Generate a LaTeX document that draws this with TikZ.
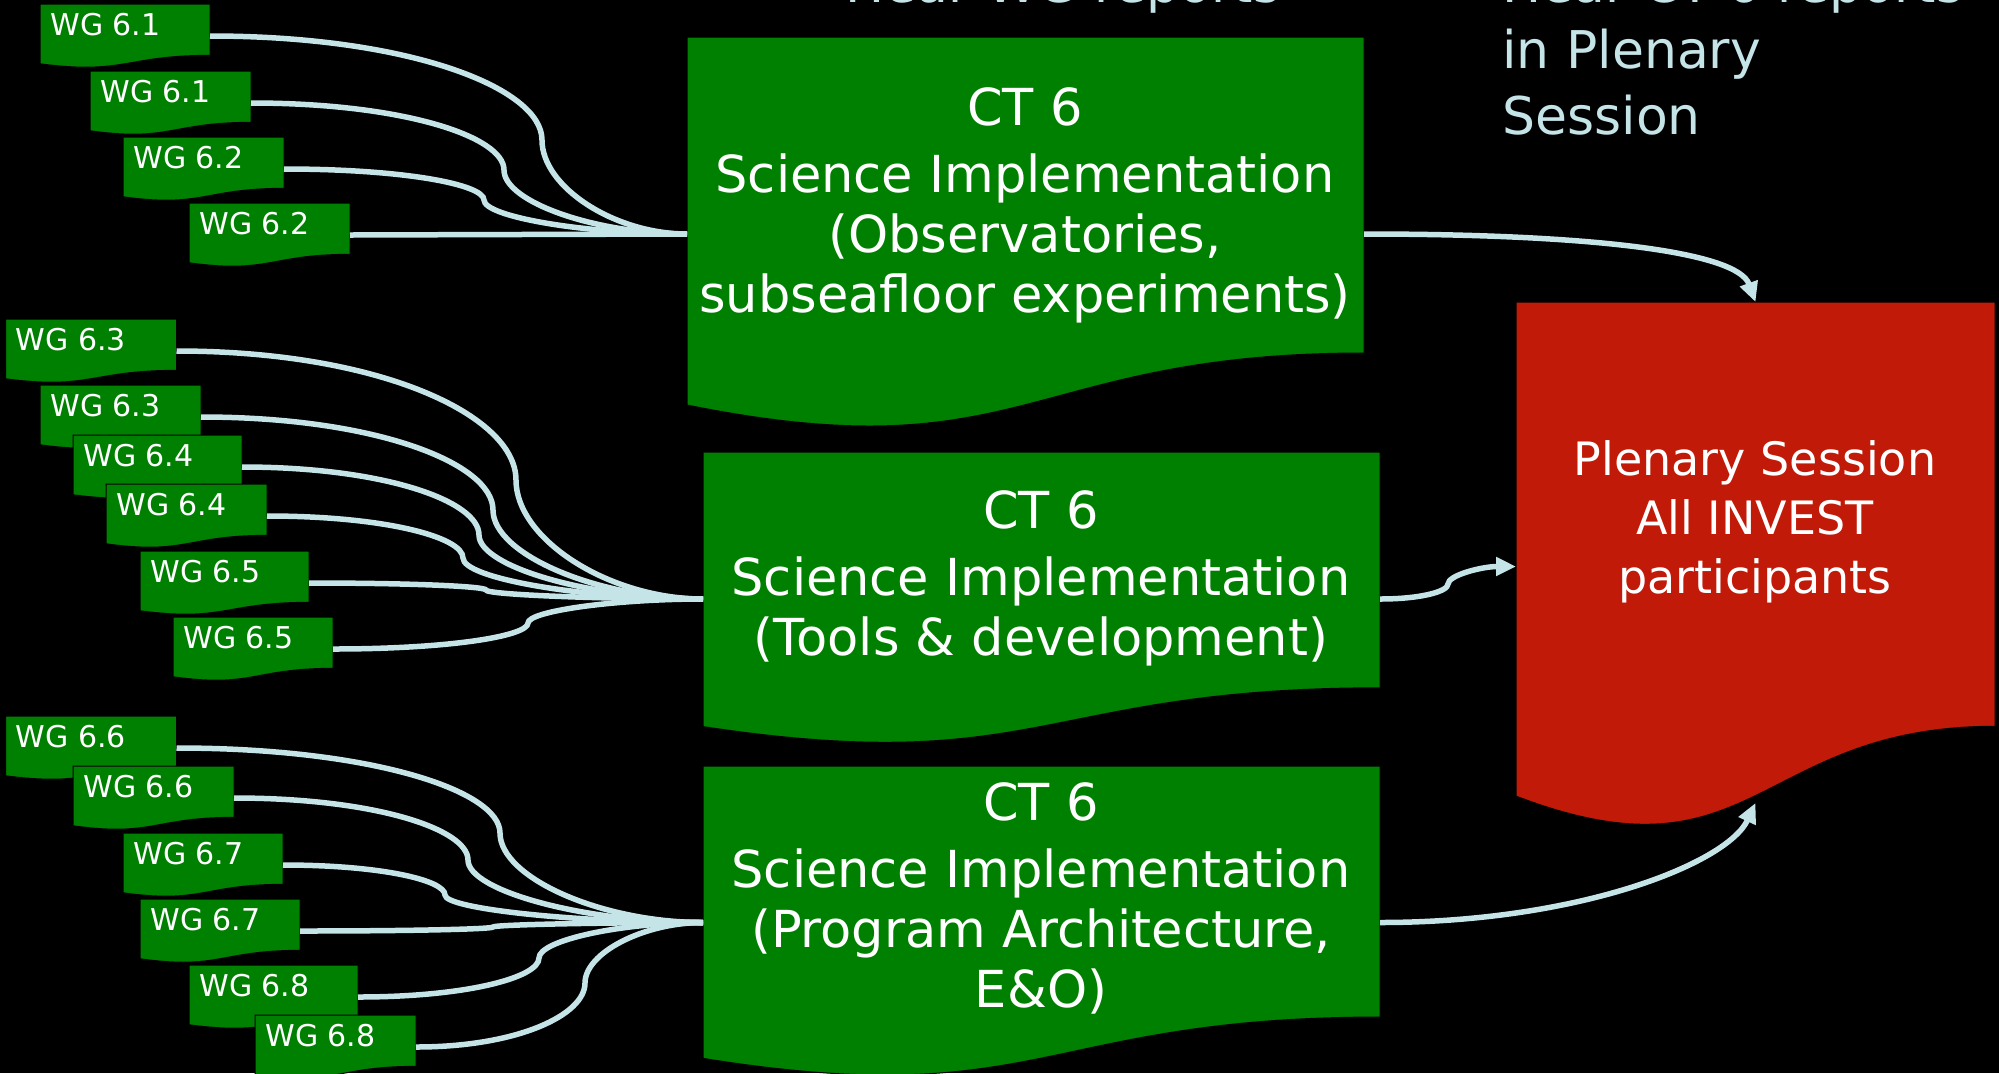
\documentclass[tikz,border=0pt]{standalone}
\usepackage{fontspec}
\setmainfont{DejaVu Sans}
\usetikzlibrary{calc,arrows.meta}
\definecolor{wggreen}{RGB}{0,128,0}
\definecolor{plred}{RGB}{193,26,8}
\definecolor{linec}{RGB}{197,228,232}
\tikzset{
  shapebox/.style={anchor=north west, inner sep=0pt, outer sep=0pt, draw=none},
  wgtext/.style={anchor=base west, inner sep=0pt, text=white, font=\fontsize{15pt}{18pt}\selectfont},
  cttext/.style={anchor=base, inner sep=0pt, text=white, font=\fontsize{25.5pt}{30pt}\selectfont},
  redtext/.style={anchor=base, inner sep=0pt, text=white, font=\fontsize{23pt}{29.5pt}\selectfont},
  hdtext/.style={anchor=base west, inner sep=0pt, text=linec, font=\fontsize{26pt}{33pt}\selectfont},
  conn/.style={draw=linec, line width=2.75pt},
  arr/.style={-{Triangle[length=10pt,width=9pt]}}
}
\newcommand\docnode[6]{%
  \path[fill=#6, draw=black, line width=0.5pt] (#2,#3) -- ({#2+#4},#3) -- ({#2+#4},{#3+0.802*#5})
    .. controls ({#2+0.5*#4},{#3+0.802*#5}) and ({#2+0.5*#4},{#3+1.1075*#5}) .. (#2,{#3+0.934*#5}) -- cycle;
  \node[shapebox, minimum width={#4*0.5pt}, minimum height={#5*0.5pt}] (#1) at (#2,#3) {};
}
\newcommand\wgbox[5]{%
  \docnode{#1}{#2}{#3}{#4}{64}{wggreen}
  \node[wgtext] (#1t) at ({#2+10},{#3+31}) {#5};
}
\newcommand\conn[4][]{%
  \draw[conn,#1] (#2) .. controls ($(#2)!0.6!(#3 |- #2)$) and ($(#3)!0.5!(#3 |- #2)$) .. (#3)
    .. controls ($(#3)!0.5!(#3 |- #4)$) and ($(#4)!0.5!(#3 |- #4)$) .. (#4);
}
\begin{document}
\begin{tikzpicture}[x=0.5pt,y=-0.5pt]
\useasboundingbox (0,0) rectangle (1999,1073);
\fill[black] (0,0) rectangle (1999,1073);
\clip (0,0) rectangle (1999,1073);

% headers
\node[hdtext] (h1) at (845,2) {Hear WG reports};
\node[hdtext] (h2) at (1502,2) {\begin{tabular}[t]{@{}l@{}}Hear CT 6 reports\\ in Plenary\\ Session\end{tabular}};

% WG boxes
\wgbox{w1}{40}{4}{170}{WG 6.1}
\wgbox{w2}{90}{71}{161}{WG 6.1}
\wgbox{w3}{123}{137}{161}{WG 6.2}
\wgbox{w4}{189}{203}{161}{WG 6.2}
\wgbox{w5}{5.5}{319}{171}{WG 6.3}
\wgbox{w6}{40}{385}{161}{WG 6.3}
\wgbox{w7}{73}{435}{169}{WG 6.4}
\wgbox{w8}{106}{484}{161}{WG 6.4}
\wgbox{w9}{140}{551}{169}{WG 6.5}
\wgbox{w10}{173}{617}{160}{WG 6.5}
\wgbox{w11}{5.5}{716}{171}{WG 6.6}
\wgbox{w12}{73}{766}{161}{WG 6.6}
\wgbox{w13}{123}{833}{160}{WG 6.7}
\wgbox{w14}{140}{899}{160}{WG 6.7}
\wgbox{w15}{189}{965}{169}{WG 6.8}
\wgbox{w16}{255}{1015}{161}{WG 6.8}

% CT boxes and plenary
\docnode{ct1}{687}{37}{677}{394}{wggreen}
\docnode{ct2}{703}{452}{677}{294}{wggreen}
\docnode{ct3}{703}{766}{677}{313}{wggreen}
\docnode{red}{1516}{302}{479}{529}{plred}

\node[cttext] (ct1t) at (1025,125) {\begin{tabular}[t]{@{}c@{}}CT 6\\[3.5pt] Science Implementation\\ (Observatories,\\ subseafloor experiments)\end{tabular}};
\node[cttext] (ct2t) at (1041,528) {\begin{tabular}[t]{@{}c@{}}CT 6\\[3.5pt] Science Implementation\\ (Tools \& development)\end{tabular}};
\node[cttext] (ct3t) at (1041,820) {\begin{tabular}[t]{@{}c@{}}CT 6\\[3.5pt] Science Implementation\\ (Program Architecture,\\ E\&O)\end{tabular}};
\node[redtext] (redt) at (1755,475) {\begin{tabular}[t]{@{}c@{}}Plenary Session\\ All INVEST\\ participants\end{tabular}};

% kink coordinates
\coordinate (k1) at (542,140);
\coordinate (k2) at (504,170);
\coordinate (k3) at (484,200);
\coordinate (k5) at (516,480);
\coordinate (k6) at (493,510);
\coordinate (k7) at (479,535);
\coordinate (k8) at (463,558);
\coordinate (k9) at (486,590);
\coordinate (k10) at (528,623);
\coordinate (k11) at (500,833);
\coordinate (k12) at (468,860);
\coordinate (k13) at (445,895);
\coordinate (k14) at (493,927);
\coordinate (k15) at (539,958);
\coordinate (k16) at (585,983);
\coordinate (km) at (1448,584);

% connectors WG -> CT
\conn{w1.east}{k1}{ct1.west}
\conn{w2.east}{k2}{ct1.west}
\conn{w3.east}{k3}{ct1.west}
\draw[conn] (w4.east) -- (ct1.west);
\conn{w5.east}{k5}{ct2.west}
\conn{w6.east}{k6}{ct2.west}
\conn{w7.east}{k7}{ct2.west}
\conn{w8.east}{k8}{ct2.west}
\conn{w9.east}{k9}{ct2.west}
\conn{w10.east}{k10}{ct2.west}
\conn{w11.east}{k11}{ct3.west}
\conn{w12.east}{k12}{ct3.west}
\conn{w13.east}{k13}{ct3.west}
\conn{w14.east}{k14}{ct3.west}
\conn{w15.east}{k15}{ct3.west}
\conn{w16.east}{k16}{ct3.west}

% connectors CT -> plenary
\draw[conn,arr] (ct1.east) .. controls +(230,0) and +(-18,-50) .. (red.north);
\conn[arr]{ct2.east}{km}{red.west}
\draw[conn,arr] (ct3.east) .. controls +(200,0) and +(-28,60) .. ($(red.south)+(0,-28)$);
\end{tikzpicture}
\end{document}
